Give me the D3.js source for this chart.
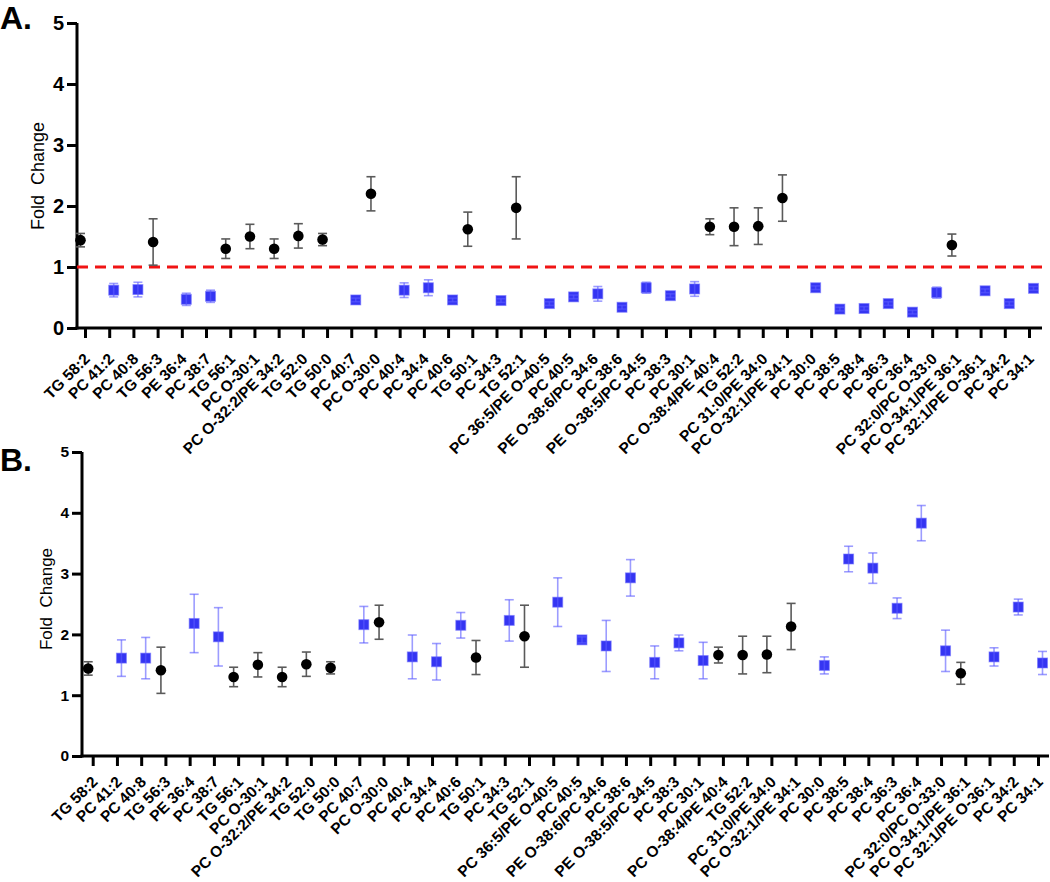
<!DOCTYPE html>
<html><head><meta charset="utf-8">
<script src="https://cdn.jsdelivr.net/npm/d3@7"></script>
<style>
html,body{margin:0;padding:0;background:#fff;}
svg{display:block;font-family:"Liberation Sans",Arial,Helvetica,sans-serif;}
</style></head>
<body><svg id="c" width="1050" height="882"></svg>
<script>
const categories = ["TG 58:2","PC 41:2","PC 40:8","TG 56:3","PE 36:4","PC 38:7","TG 56:1","PC O-30:1","PC O-32:2/PE 34:2","TG 52:0","TG 50:0","PC 40:7","PC O-30:0","PC 40:4","PC 34:4","PC 40:6","TG 50:1","PC 34:3","TG 52:1","PC 36:5/PE O-40:5","PC 40:5","PE O-38:6/PC 34:6","PC 38:6","PE O-38:5/PC 34:5","PC 38:3","PC 30:1","PC O-38:4/PE 40:4","TG 52:2","PC 31:0/PE 34:0","PC O-32:1/PE 34:1","PC 30:0","PC 38:5","PC 38:4","PC 36:3","PC 36:4","PC 32:0/PC O-33:0","PC O-34:1/PE 36:1","PC 32:1/PE O-36:1","PC 34:2","PC 34:1"];
const _ = null;
// black circles (same in both panels)
const blackMean = [1.44,_,_,1.41,_,_,1.30,1.50,1.30,1.51,1.45,_,2.20,_,_,_,1.62,_,1.97,_,_,_,_,_,_,_,1.66,1.66,1.67,2.13,_,_,_,_,_,_,1.36,_,_,_];
const blackErr  = [0.11,_,_,0.38,_,_,0.16,0.20,0.16,0.20,0.10,_,0.28,_,_,_,0.28,_,0.51,_,_,_,_,_,_,_,0.13,0.31,0.30,0.38,_,_,_,_,_,_,0.18,_,_,_];
// blue squares, panel A
const blueMeanA = [_,0.62,0.63,_,0.47,0.52,_,_,_,_,_,0.46,_,0.62,0.66,0.46,_,0.45,_,0.40,0.51,0.56,0.34,0.66,0.53,0.64,_,_,_,_,0.66,0.31,0.32,0.40,0.26,0.58,_,0.61,0.40,0.65];
const blueErrA  = [_,0.11,0.12,_,0.10,0.10,_,_,_,_,_,0.03,_,0.12,0.13,0.03,_,0.03,_,0.03,0.03,0.12,0.03,0.09,0.03,0.12,_,_,_,_,0.03,0.03,0.03,0.03,0.03,0.09,_,0.03,0.03,0.03];
// blue squares, panel B
const blueMeanB = [_,1.61,1.61,_,2.18,1.96,_,_,_,_,_,2.16,_,1.63,1.55,2.15,_,2.23,_,2.53,1.91,1.81,2.93,1.54,1.86,1.57,_,_,_,_,1.49,3.24,3.09,2.43,3.83,1.73,_,1.63,2.45,1.53];
const blueErrB  = [_,0.30,0.34,_,0.48,0.48,_,_,_,_,_,0.30,_,0.36,0.30,0.21,_,0.34,_,0.40,0.05,0.42,0.30,0.27,0.13,0.30,_,_,_,_,0.14,0.21,0.25,0.17,0.29,0.34,_,0.15,0.13,0.19];
const yTicks = [0,1,2,3,4,5];
const refLine = 1;

const svg = d3.select("#c");
const BLUE = "#3535f2", BLUE_ERR = "rgba(90,90,255,0.6)", BLACK_ERR = "#5a5a5a";

function panel(cfg){
  const g = svg.append("g");
  const x = d3.scalePoint().domain(categories).range([cfg.x0, cfg.x1]);
  const off = d3.scalePoint().domain(["black","blue"]).range([-4.5, 4.5]);
  const y = d3.scaleLinear().domain([0,5]).range([cfg.yb, cfg.yt]);

  // y axis
  const ya = g.append("g").attr("transform",`translate(${cfg.ax},0)`)
    .call(d3.axisLeft(y).tickValues(yTicks).tickFormat(d3.format("d")).tickSize(10).tickPadding(3));
  ya.select(".domain").attr("d",`M0,${y(0)+1.5}V${y(5)}`).attr("stroke","#000").attr("stroke-width",3);
  ya.selectAll(".tick line").attr("stroke","#000").attr("stroke-width",3);
  ya.selectAll(".tick text").attr("font-size",cfg.yfs).attr("font-weight","bold").attr("fill","#000");

  // x axis
  const xa = g.append("g").attr("transform",`translate(0,${cfg.yb})`)
    .call(d3.axisBottom(x).tickSize(10).tickFormat(""));
  xa.select(".domain").attr("d",`M${cfg.ax-1.5},0H${cfg.xend}`).attr("stroke","#000").attr("stroke-width",3);
  xa.selectAll(".tick line").attr("stroke","#000").attr("stroke-width",3);

  g.append("g").selectAll("text").data(categories).join("text")
    .attr("transform",d=>`translate(${x(d)+2},${cfg.yb+cfg.ldy}) rotate(-45)`)
    .attr("text-anchor","end").attr("dy","0.35em")
    .attr("font-size",15.5).attr("font-weight","bold").attr("fill","#000")
    .text(d=>d);

  // y title
  g.append("text").attr("transform",`translate(${cfg.titleX},${cfg.titleY}) rotate(-90)`)
    .attr("text-anchor","middle").attr("font-size",cfg.tfs).attr("fill","#000")
    .style("white-space","pre").text("Fold\u00a0\u00a0Change");

  // panel letter
  g.append("text").attr("x",cfg.lx).attr("y",cfg.ly).attr("font-size",32).attr("font-weight","bold").text(cfg.letter);

  if (cfg.ref){
    g.append("line").attr("x1",cfg.ax).attr("x2",cfg.xend).attr("y1",y(refLine)).attr("y2",y(refLine))
      .attr("stroke","#f01414").attr("stroke-width",3).attr("stroke-dasharray","11,7");
  }

  const blk = categories.map((c,i)=>({c,m:blackMean[i],e:blackErr[i]})).filter(d=>d.m!=null);
  const blu = categories.map((c,i)=>({c,m:cfg.bm[i],e:cfg.be[i]})).filter(d=>d.m!=null);

  function errbars(data, key, color){
    const eg = g.append("g").attr("stroke",color).attr("stroke-width",1.6).attr("fill","none");
    data.forEach(d=>{
      const cx = x(d.c)+off(key);
      eg.append("line").attr("x1",cx).attr("x2",cx).attr("y1",y(d.m+d.e)).attr("y2",y(d.m-d.e));
      eg.append("line").attr("x1",cx-4.5).attr("x2",cx+4.5).attr("y1",y(d.m+d.e)).attr("y2",y(d.m+d.e));
      eg.append("line").attr("x1",cx-4.5).attr("x2",cx+4.5).attr("y1",y(d.m-d.e)).attr("y2",y(d.m-d.e));
    });
  }
  errbars(blk,"black",BLACK_ERR);
  g.append("g").selectAll("circle").data(blk).join("circle")
    .attr("cx",d=>x(d.c)+off("black")).attr("cy",d=>y(d.m)).attr("r",5.3).attr("fill","#000");
  g.append("g").selectAll("rect").data(blu).join("rect")
    .attr("x",d=>x(d.c)+off("blue")-5).attr("y",d=>y(d.m)-5).attr("width",10).attr("height",10)
    .attr("fill",BLUE).attr("stroke","rgba(120,120,255,0.6)").attr("stroke-width",1);
  errbars(blu,"blue",BLUE_ERR);
}

panel({letter:"A.", lx:0, ly:29, ax:77, x0:85, x1:1029, xend:1042, yt:23, yb:328, yfs:20, tfs:18, titleX:44, titleY:176, ldy:28, ref:true, bm:blueMeanA, be:blueErrA});
panel({letter:"B.", lx:0, ly:471, ax:82, x0:92.7, x1:1038, xend:1049, yt:452, yb:756, yfs:15.5, tfs:17, titleX:52, titleY:599, ldy:23, ref:false, bm:blueMeanB, be:blueErrB});
</script></body></html>
